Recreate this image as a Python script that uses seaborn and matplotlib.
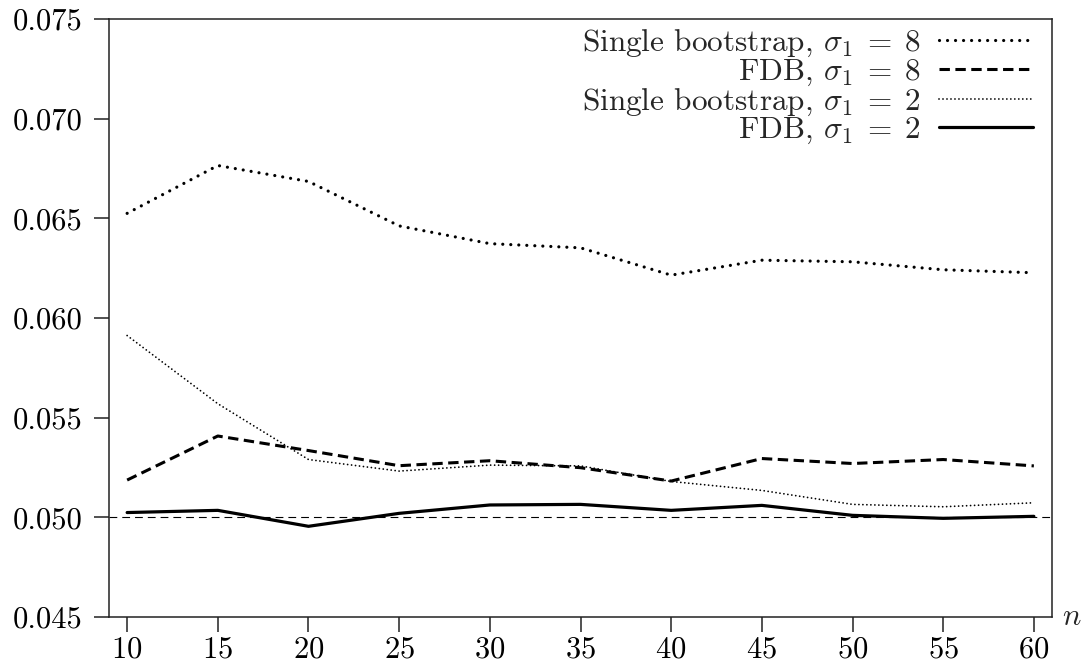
import matplotlib
matplotlib.use("Agg")
import matplotlib.pyplot as plt
import seaborn as sns
import numpy as np
import pandas as pd
from matplotlib.ticker import FixedLocator, FixedFormatter

# ---- data ----
n_values = [10, 15, 20, 25, 30, 35, 40, 45, 50, 55, 60]
single_s8 = [0.06525, 0.06765, 0.06685, 0.06462, 0.06373, 0.06352, 0.06215, 0.06290, 0.06282, 0.06242, 0.06227]
fdb_s8 = [0.05187, 0.05408, 0.05335, 0.05259, 0.05284, 0.05249, 0.05182, 0.05295, 0.05270, 0.05290, 0.05258]
single_s2 = [0.05912, 0.05570, 0.05290, 0.05232, 0.05262, 0.05258, 0.05180, 0.05135, 0.05065, 0.05053, 0.05073]
fdb_s2 = [0.05024, 0.05035, 0.04955, 0.05020, 0.05062, 0.05065, 0.05035, 0.05060, 0.05010, 0.04995, 0.05005]
labels = [r"Single bootstrap, $\sigma_1\;=\;8$", r"FDB, $\sigma_1\;=\;8$",
          r"Single bootstrap, $\sigma_1\;=\;2$", r"FDB, $\sigma_1\;=\;2$"]
yticks = [0.045, 0.050, 0.055, 0.060, 0.065, 0.070, 0.075]
ytick_labels = ["0.045", "0.050", "0.055", "0.060", "0.065", "0.070", "0.075"]
xticks = [10, 15, 20, 25, 30, 35, 40, 45, 50, 55, 60]
nominal = 0.05

sns.set_style("ticks")
plt.rcParams["font.family"] = ["cmr10", "DejaVu Serif"]
plt.rcParams["mathtext.fontset"] = "cm"
plt.rcParams["axes.formatter.use_mathtext"] = True
plt.rcParams["axes.unicode_minus"] = False

fig = plt.figure(figsize=(10.82, 6.65), dpi=100)
ax = fig.add_axes([109 / 1082, 48 / 665, 943 / 1082, 598 / 665])

df = pd.DataFrame({"n": n_values, "s8": single_s8, "f8": fdb_s8, "s2": single_s2, "f2": fdb_s2})

styles = [
    ("s8", dict(lw=2.3, linestyle=(0, (0.01, 2.5)), dash_capstyle="round")),
    ("f8", dict(lw=2.2, linestyle=(0, (3.4, 1.8)), dash_capstyle="butt")),
    ("s2", dict(lw=1.3, linestyle=(0, (0.01, 2.2)), dash_capstyle="round")),
    ("f2", dict(lw=2.3, linestyle="-")),
]
for (col, kw), lab in zip(styles, labels):
    sns.lineplot(data=df, x="n", y=col, ax=ax, color="black", label=lab, **kw)

ax.axhline(nominal, color="black", lw=0.8, linestyle=(0, (7, 4.5)), zorder=1)

ax.set_xlim(9, 61)
ax.set_ylim(0.045, 0.075)
ax.xaxis.set_major_locator(FixedLocator(xticks))
ax.yaxis.set_major_locator(FixedLocator(yticks))
ax.yaxis.set_major_formatter(FixedFormatter(ytick_labels))
ax.set_xlabel("")
ax.set_ylabel("")
ax.tick_params(axis="both", direction="out", length=10.8, width=1.1, labelsize=22,
               color="#222222", labelcolor="black")
ax.tick_params(axis="y", pad=8)
ax.tick_params(axis="x", pad=3)
for s in ax.spines.values():
    s.set_visible(True)
    s.set_linewidth(1.1)
    s.set_color("#222222")

ax.annotate(r"$n$", xy=(1, 0), xycoords="axes fraction", xytext=(7, -6),
            textcoords="offset points", ha="left", va="baseline", fontsize=22)

leg = ax.legend(loc="upper right", bbox_to_anchor=(0.98, 0.985), markerfirst=False,
                frameon=False, fontsize=22.5, handlelength=3.0, handletextpad=0.6,
                labelspacing=-0.05, borderpad=0, borderaxespad=0)

fig.savefig("out.png", dpi=100)
